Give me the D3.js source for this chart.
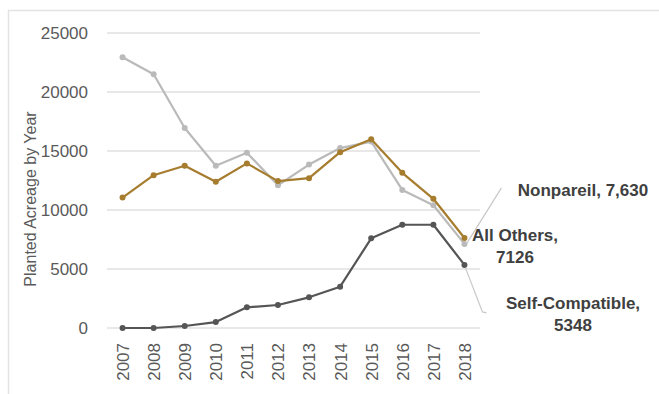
<!DOCTYPE html>
<html><head><meta charset="utf-8">
<script src="https://cdn.jsdelivr.net/npm/d3@7"></script>
<style>
html,body{margin:0;padding:0;background:#fff;}
text{font-family:"Liberation Sans",Arial,sans-serif;}
</style></head>
<body><svg id="chart" width="659" height="394"></svg>
<script>
const years = ["2007","2008","2009","2010","2011","2012","2013","2014","2015","2016","2017","2018"];
const nonpareil = [22950,21500,16950,13750,14850,12100,13850,15250,15800,11700,10400,7126];
const allOthers = [11050,12950,13750,12400,13950,12450,12700,14900,16000,13150,10950,7630];
const selfCompatible = [0,0,170,500,1750,1950,2600,3500,7600,8750,8750,5348];
const yTicks = [0,5000,10000,15000,20000,25000];
const yTitle = "Planted Acreage by Year";
const labels = [
  {lines:["Nonpareil, 7,630"]},
  {lines:["All Others,","7126"]},
  {lines:["Self-Compatible,","5348"]}
];

const svg = d3.select("#chart");
const m = {left:107, right:480, top:33, bottom:328};

svg.append("rect").attr("x",8.5).attr("y",10.5).attr("width",700).attr("height",420)
  .attr("fill","none").attr("stroke","#e3e3e3").attr("stroke-width",1.5);

const x = d3.scalePoint().domain(years).range([m.left, m.right]).padding(0.5);
const y = d3.scaleLinear().domain([0,25000]).range([m.bottom, m.top]);

// gridlines
svg.append("g").selectAll("line").data(yTicks).join("line")
  .attr("x1",m.left).attr("x2",m.right)
  .attr("y1",d=>y(d)).attr("y2",d=>y(d))
  .attr("stroke","#e0e0e0").attr("stroke-width",1.5);

// y axis labels
const yAxis = d3.axisLeft(y).tickValues(yTicks).tickSize(0).tickPadding(0).tickFormat(d=>String(d));
const ya = svg.append("g").attr("transform",`translate(88,0)`).call(yAxis);
ya.select(".domain").remove();
ya.selectAll("text").attr("font-size",17).attr("fill","#5a5a5a").attr("font-family","Liberation Sans, Arial, sans-serif");

// x axis labels
const xAxis = d3.axisBottom(x).tickSize(0).tickPadding(0);
const xa = svg.append("g").attr("transform",`translate(0,${m.bottom})`).call(xAxis);
xa.select(".domain").remove();
xa.selectAll("text").attr("font-size",17).attr("fill","#5a5a5a").attr("font-family","Liberation Sans, Arial, sans-serif")
  .attr("text-anchor","end").attr("dy","0.35em")
  .attr("transform","translate(0,15) rotate(-90)").attr("x",0).attr("y",0);

// y title
svg.append("text").attr("transform","translate(36,199) rotate(-90)")
  .attr("text-anchor","middle").attr("font-size",16).attr("fill","#5a5a5a").text(yTitle);

// series
const series = [
  {vals:nonpareil, color:"#bababa"},
  {vals:allOthers, color:"#a67c2e"},
  {vals:selfCompatible, color:"#555555"}
];
const line = d3.line().x((d,i)=>x(years[i])).y(d=>y(d));
series.forEach(s=>{
  svg.append("path").datum(s.vals).attr("d",line).attr("fill","none")
    .attr("stroke",s.color).attr("stroke-width",2.2).attr("stroke-linejoin","round");
  svg.append("g").selectAll("circle").data(s.vals).join("circle")
    .attr("cx",(d,i)=>x(years[i])).attr("cy",d=>y(d)).attr("r",3).attr("fill",s.color);
});

// leader lines
const lx = x("2018");
svg.append("path").attr("d",`M${lx+2},${y(nonpareil[11])} L${lx+37},${y(nonpareil[11])-56}`)
  .attr("stroke","#c8c8c8").attr("fill","none").attr("stroke-width",1.2);
svg.append("path").attr("d",`M${lx+1},${y(selfCompatible[11])+3} L${lx+18},${y(selfCompatible[11])+47} L${lx+22},${y(selfCompatible[11])+48}`)
  .attr("stroke","#c8c8c8").attr("fill","none").attr("stroke-width",1.2);

// data labels
const labPos = [
  {x:583, y:190},
  {x:515, y:235},
  {x:573, y:303}
];
labels.forEach((l,i)=>{
  const t = svg.append("text").attr("text-anchor","middle").attr("font-size",17)
    .attr("fill","#404040").attr("font-weight","bold");
  l.lines.forEach((ln,j)=>{
    t.append("tspan").attr("x",labPos[i].x).attr("y",labPos[i].y+j*22).attr("dy","0.35em").text(ln);
  });
});
</script></body></html>
